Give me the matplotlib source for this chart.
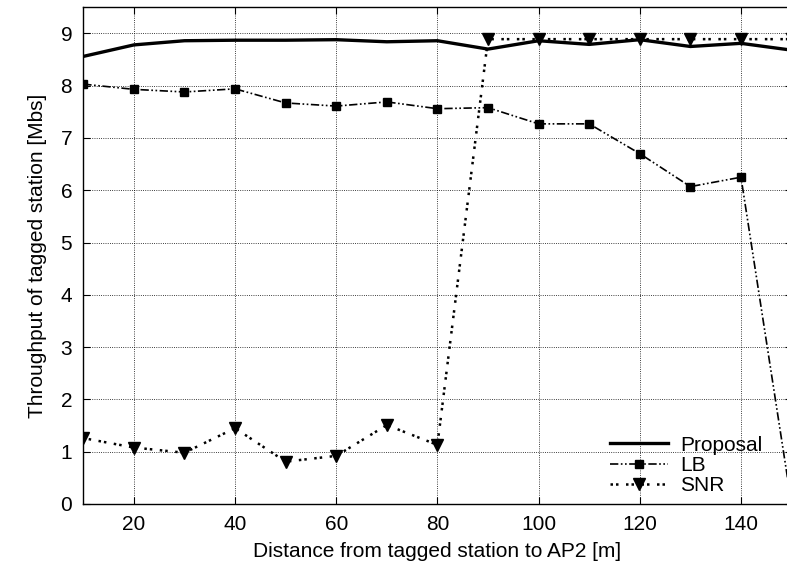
import matplotlib
matplotlib.use('Agg')
import matplotlib.pyplot as plt

# Data
distance = [10, 20, 30, 40, 50, 60, 70, 80, 90, 100, 110, 120, 130, 140, 150]
proposal = [8.56, 8.78, 8.86, 8.87, 8.87, 8.88, 8.84, 8.86, 8.70, 8.86,
            8.79, 8.88, 8.75, 8.81, 8.68]
lb = [8.03, 7.93, 7.88, 7.94, 7.67, 7.61, 7.69, 7.56, 7.58, 7.27,
      7.27, 6.70, 6.07, 6.25, 0.0]
snr = [1.26, 1.08, 0.98, 1.45, 0.81, 0.92, 1.51, 1.13, 8.89, 8.89,
       8.89, 8.89, 8.89, 8.89, 8.89]

plt.rcParams['font.family'] = ['Liberation Sans', 'DejaVu Sans']
fs = 15

fig = plt.figure(figsize=(7.87, 5.72), dpi=100)
# the right spine sits just outside the picture, as in the reference
ax = fig.add_axes([0.1058, 0.1189, 0.900, 0.8684])

ax.plot(distance, proposal, color='black', lw=2.4, label='Proposal')
ax.plot(distance, lb, color='black', lw=1.2, dashes=(5, 1.5, 1, 1.5, 1, 1.5),
        marker='s', ms=5.5, label='LB')
ax.plot(distance, snr, color='black', lw=1.8, dashes=(1, 1.2, 1, 3),
        marker='v', ms=9, label='SNR')

ax.set_xlim(10, 150)
ax.set_ylim(0, 9.5)
ax.set_xticks(range(20, 150, 20))
ax.set_yticks(range(0, 10))
ax.grid(True, color='black', linestyle=':', linewidth=0.6)
ax.tick_params(direction='in', length=5, top=True, right=True,
               labelsize=fs, pad=8)
for sp in ax.spines.values():
    sp.set_linewidth(1.0)

ax.set_xlabel('Distance from tagged station to AP2 [m]', fontsize=fs, labelpad=6)
ax.set_ylabel('Throughput of tagged station [Mbs]', fontsize=fs, labelpad=10)

ax.legend(loc='lower right', frameon=False, handlelength=2.8, handletextpad=0.6,
          fontsize=fs, labelspacing=0.05, borderaxespad=0.0, borderpad=0.2,
          bbox_to_anchor=(0.965, 0.01))

fig.savefig('out.png', dpi=100)
